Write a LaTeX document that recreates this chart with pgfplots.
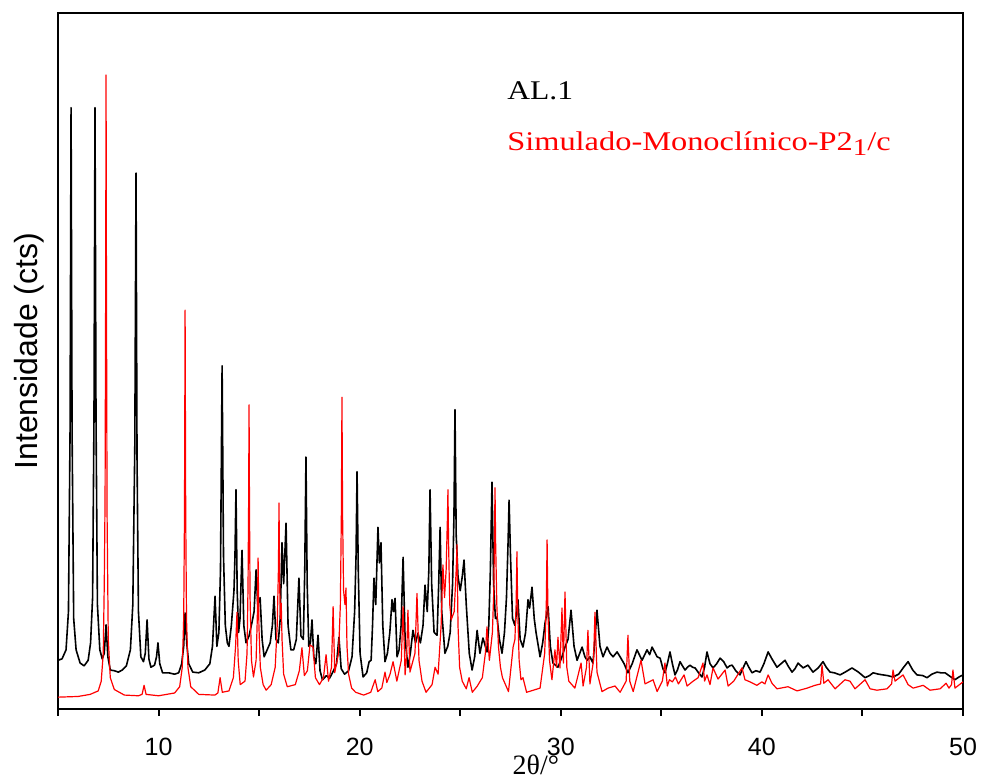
\documentclass[border=0pt]{standalone}
\usepackage{fontspec}
\setmainfont{Liberation Sans}
\newfontfamily\timesf{Liberation Serif}
\usepackage{graphicx}
\usepackage{pgfplots}
\pgfplotsset{compat=1.18}

% AL.1 experimental pattern
\pgfplotstableread{
x y
5.00 7.0
5.20 7.2
5.40 8.5
5.52 14
5.60 40
5.65 86.4
5.70 40
5.78 13
5.90 8.5
6.10 6.6
6.30 6.2
6.50 7.0
6.62 9.5
6.72 16
6.79 42
6.84 86.4
6.89 42
6.96 15
7.08 8.5
7.20 7.2
7.30 8
7.39 12.1
7.48 7.5
7.60 5.6
7.80 5.5
8.00 5.3
8.20 5.6
8.40 6.2
8.60 8.5
8.72 15
8.82 38
8.88 77.0
8.93 36
9.00 14
9.12 7.5
9.25 6.8
9.34 8
9.43 12.8
9.52 7.2
9.62 6
9.80 6.3
9.90 7.5
9.97 9.5
10.06 6.5
10.20 5.2
10.50 5.2
10.80 5.0
11.00 5.2
11.15 6.5
11.25 9
11.32 13.8
11.40 9.5
11.50 6.5
11.70 5.3
12.00 5.2
12.30 5.6
12.55 6.5
12.68 9
12.81 16.2
12.90 9
13.00 11
13.08 20
13.16 49.3
13.23 22
13.32 12
13.42 9.5
13.50 9.0
13.62 12
13.75 17
13.80 22
13.85 31.5
13.91 17
13.98 11
14.05 13
14.15 22.8
14.24 12
14.35 9.5
14.50 10.5
14.65 12.5
14.75 14
14.85 20
14.93 15
15.05 16
15.15 10
15.25 7.5
15.40 8.5
15.55 9.5
15.66 12
15.74 16.2
15.84 10
15.95 9.5
16.05 13
16.14 23.9
16.22 18
16.34 26.7
16.44 12
16.58 8.5
16.72 8.5
16.85 10
16.98 18.8
17.08 10.5
17.20 10
17.27 20
17.33 36.2
17.39 18
17.47 9
17.55 9.5
17.63 12.8
17.72 7.5
17.82 6.5
17.93 10.6
18.03 5.5
18.15 4.2
18.35 4.8
18.50 4.4
18.70 5.5
18.85 6.5
18.97 10.3
19.08 5.8
19.25 5.0
19.45 5.5
19.62 7.5
19.75 14
19.82 22
19.87 34.1
19.93 20
20.02 8
20.17 4.6
20.35 5.2
20.47 6.8
20.57 7
20.64 12
20.71 18.8
20.80 15
20.91 26.1
20.98 21
21.06 23.9
21.15 12
21.26 6.8
21.38 8
21.50 11
21.61 15.7
21.68 14
21.76 15.9
21.86 7.5
21.96 8.5
22.06 12
22.16 21.8
22.26 10
22.40 6.0
22.52 8
22.65 11.3
22.78 9.5
22.90 10.9
23.02 9.5
23.15 12
23.25 17.8
23.36 14
23.44 20
23.50 31.5
23.58 18
23.70 11
23.85 10.6
23.93 18
24.00 26.1
24.08 14
24.24 8.0
24.38 9
24.50 11
24.62 18
24.69 28
24.74 43.0
24.80 25
24.89 19
25.00 17
25.10 19
25.19 21.4
25.30 15
25.45 8
25.59 5.6
25.72 7.5
25.84 11.3
25.98 8.0
26.13 10.2
26.33 8.2
26.42 12
26.50 20
26.58 32.6
26.66 18
26.75 13
26.83 13.2
26.95 10
27.08 8.0
27.20 11
27.30 16
27.38 24
27.43 30
27.50 22
27.60 13
27.72 12
27.87 15.7
27.98 10
28.12 8.9
28.25 11
28.37 15.7
28.45 14.5
28.57 17.5
28.68 13
28.77 11
28.97 7.5
29.10 9.5
29.22 12.4
29.37 14.7
29.48 9
29.61 6.6
29.86 6.0
30.06 7.5
30.21 8.9
30.36 10
30.51 14.2
30.66 9
30.81 7.0
31.06 8.9
31.20 7.5
31.31 7.0
31.45 7.5
31.60 6.6
31.70 10
31.80 14.2
31.95 9
32.10 7.5
32.30 8.9
32.45 8
32.60 7.5
32.80 8.2
32.95 7.5
33.15 6.5
33.34 5.2
33.55 6.5
33.79 8.5
34.04 7.0
34.29 8.5
34.42 7.8
34.54 8.9
34.79 7.5
34.94 7.3
35.08 5.8
35.18 5.2
35.30 6.5
35.43 8.2
35.55 6.5
35.68 4.9
35.80 5.6
35.93 6.8
36.05 6.2
36.18 5.6
36.30 6.0
36.43 6.3
36.55 6.0
36.68 5.9
36.85 5.2
37.02 4.6
37.15 6
37.27 8.2
37.42 6.5
37.57 5.9
37.75 6.5
37.92 7.3
38.10 6.8
38.27 5.9
38.40 6.2
38.52 6.3
38.70 5.5
38.91 4.9
39.05 5.8
39.21 6.8
39.35 6.0
39.51 5.2
39.70 5.5
39.91 5.3
40.10 6.5
40.31 8.2
40.50 7.2
40.75 6.0
40.95 6.5
41.15 7.0
41.30 6.2
41.50 5.3
41.65 5.8
41.80 6.6
42.05 5.9
42.29 6.3
42.54 5.3
42.80 5.9
43.04 6.8
43.20 6.0
43.39 5.3
43.60 5.2
43.89 4.9
44.20 5.4
44.48 5.9
44.80 5.3
45.13 4.5
45.35 4.8
45.53 5.2
45.80 5.0
46.02 4.9
46.25 4.8
46.52 4.6
46.80 5.0
47.05 6.0
47.27 6.8
47.50 5.6
47.71 4.9
48.00 4.8
48.21 4.5
48.45 5.0
48.71 5.3
48.90 5.2
49.11 5.2
49.35 4.7
49.60 4.2
49.80 4.6
50.00 4.9
}\expdata

% simulated monoclinic P2_1/c pattern
\pgfplotstableread{
x y
5.00 1.7
6.00 1.8
6.60 2.1
7.00 2.6
7.15 4.0
7.25 8
7.30 17.8
7.34 30
7.37 60
7.39 91.1
7.41 60
7.44 28
7.50 10
7.60 4.5
7.80 2.8
8.30 2.0
9.00 1.9
9.18 2.1
9.28 3.4
9.38 2.1
10.00 1.9
10.80 2.3
11.05 3.2
11.18 6
11.25 13
11.29 28
11.32 57.3
11.35 28
11.39 13
11.46 6
11.60 3.2
12.00 2.1
12.80 2.0
12.95 2.3
13.06 4.5
13.17 2.4
13.50 2.6
13.72 4.5
13.83 9
13.90 13.9
13.96 7
14.06 3.5
14.30 4.0
14.40 8
14.45 18
14.48 30
14.50 43.7
14.52 30
14.55 16
14.62 7
14.72 4.6
14.85 7
14.91 13
14.95 21.7
14.99 12
15.06 6
15.20 3.5
15.35 2.7
15.60 3.5
15.80 6
15.90 12
15.96 20
15.99 29.6
16.02 18
16.06 13
16.10 15.2
16.14 10
16.22 5
16.40 3.2
16.80 3.5
17.00 5.5
17.13 8.8
17.25 4.8
17.40 5.5
17.53 9.2
17.68 8.9
17.80 4.5
18.00 3.5
18.20 4.5
18.33 7.8
18.45 4
18.60 6
18.68 14.7
18.76 5.2
18.95 8
19.04 15
19.09 28
19.12 44.8
19.15 28
19.20 17
19.27 15
19.32 17.4
19.37 9
19.45 5
19.60 3.0
19.80 2.4
20.20 2.0
20.55 2.4
20.77 4.2
20.90 2.5
21.10 3.0
21.26 5.3
21.35 3.8
21.51 5.0
21.66 6.8
21.85 4.0
22.07 7
22.16 14.7
22.26 4.9
22.34 8
22.40 14.2
22.50 5.3
22.75 8
22.85 16.6
22.95 7.0
23.10 4.0
23.30 2.4
23.60 3.5
23.75 6.0
23.90 5.0
24.05 12
24.14 20.7
24.22 16
24.30 20
24.36 27
24.39 31.5
24.42 24
24.48 15
24.55 12.8
24.70 14
24.80 20
24.84 23.6
24.89 12
24.97 6
25.10 4
25.30 2.9
25.44 4.5
25.60 2.4
25.85 3.3
26.10 4.5
26.25 8
26.33 11.8
26.45 7.0
26.60 11
26.67 17
26.71 26
26.73 31.8
26.76 24
26.82 15
26.90 9
27.00 6
27.10 4.5
27.40 2.5
27.63 8.9
27.72 10
27.78 15
27.82 22.6
27.86 14
27.93 7
28.02 4.2
28.12 4.5
28.30 2.4
28.97 3.0
29.20 8
29.28 15
29.32 24.3
29.36 14
29.44 7
29.56 4.2
29.71 8.5
29.79 6
29.86 10.3
29.96 5.9
30.06 14.5
30.13 6.6
30.21 16.8
30.30 6
30.40 4.0
30.70 3.0
31.01 6.6
31.11 3.3
31.28 6
31.35 11.3
31.45 3.6
31.63 7
31.70 13.9
31.80 5.3
32.05 2.5
32.35 3.0
32.70 3.3
32.95 2.4
33.25 4
33.34 10.6
33.43 4
33.60 2.5
33.99 7.0
34.19 3.6
34.59 4.2
34.79 2.5
35.05 4.0
35.18 6.6
35.30 3.3
35.40 4.2
35.55 3.9
35.70 4.6
35.85 3.6
36.13 4.9
36.28 3.3
36.58 4.0
36.83 4.5
37.07 6.6
37.15 4.0
37.27 4.9
37.42 3.5
37.57 5.9
37.82 4.3
38.17 5.6
38.32 3.3
38.60 4.0
39.01 5.9
39.16 4.2
39.41 3.9
39.75 3.4
40.00 3.9
40.15 3.6
40.31 4.9
40.50 3.7
40.75 2.9
41.30 3.2
41.75 2.6
42.25 3.0
42.64 3.4
42.92 3.6
42.99 6.3
43.08 3.7
43.29 4.2
43.64 2.9
44.13 4.2
44.38 4.0
44.63 2.9
45.13 4.2
45.38 2.9
45.72 2.7
46.22 2.9
46.45 3.6
46.52 5.6
46.62 4.0
47.02 4.9
47.27 3.5
47.52 3.0
48.02 3.4
48.36 2.7
48.86 2.9
49.16 3.7
49.30 3.0
49.43 3.5
49.50 5.6
49.60 3.0
50.00 3.9
}\simdata

\begin{document}
\begin{tikzpicture}
\path[use as bounding box] (-29pt,-36pt) rectangle (461.5pt,354.5pt);
\begin{axis}[
    at={(0,0)}, anchor=south west,
    scale only axis,
    width=452.5pt, height=348pt,
    xmin=5, xmax=50, ymin=0, ymax=100,
    xtick={5,10,...,50},
    xticklabels={,10,,20,,30,,40,,50},
    ytick=\empty,
    xtick pos=bottom,
    tick align=outside,
    major tick length=3.5pt,
    every tick/.style={black, line width=1pt},
    axis line style={line width=1pt},
    xticklabel style={font=\fontsize{12.5}{14}\selectfont, yshift=-7.5pt},
    xlabel={2θ/°},
    xlabel style={font=\timesf\fontsize{14}{16}\selectfont,
        at={(axis description cs:0.528,0)}, anchor=north, yshift=-19.5pt},
    ylabel={Intensidade (cts)},
    ylabel style={font=\fontsize{16}{19}\selectfont,
        at={(axis description cs:-0.032,0.514)}, anchor=center},
]
\addplot[black, line width=0.8pt, line join=round] table[x=x, y=y] {\expdata};
\addplot[red, line width=0.6pt, line join=round] table[x=x, y=y] {\simdata};
\node[anchor=base west, inner sep=0pt, font=\timesf\fontsize{13.5}{16}\selectfont]
    at (axis description cs:0.496,0.875) {\scalebox{1.17}[1]{AL.1}};
\node[anchor=base west, inner sep=0pt, text=red, font=\timesf\fontsize{13.5}{16}\selectfont]
    at (axis description cs:0.496,0.803)
    {\scalebox{1.2}[1]{Simulado-Monoclínico-P2\raisebox{-0.45ex}{\fontsize{12}{13}\selectfont 1}/c}};
\end{axis}
\end{tikzpicture}
\end{document}
